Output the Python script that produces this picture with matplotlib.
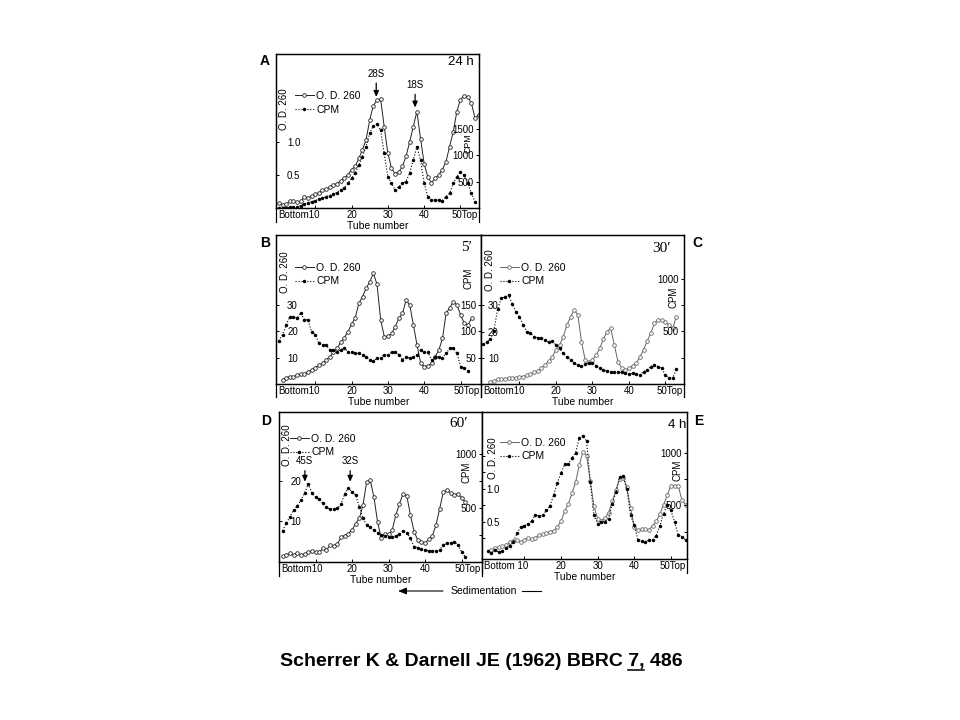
import matplotlib
matplotlib.use('Agg')
import matplotlib.pyplot as plt
from matplotlib.lines import Line2D

plt.rcParams['font.family'] = ['Liberation Sans', 'DejaVu Sans']

W, H = 960, 720

# ---------------- values ----------------
tube_ticks = [10, 20, 30, 40, 50]
# 10 and 50 are written together with the Bottom / Top words
tube_ticklabels = ['', '20', '30', '40', '']
legend_labels = ['O. D. 260', 'CPM']

# A : 24 h
a_od_tube = list(range(0, 56))
a_od = [0.07, 0.05, 0.06, 0.10, 0.11, 0.09, 0.10, 0.17, 0.15, 0.18,
        0.21, 0.23, 0.27, 0.28, 0.32, 0.35, 0.37, 0.41, 0.45, 0.50,
        0.58, 0.63, 0.75, 0.88, 1.03, 1.33, 1.55, 1.63, 1.65, 1.23,
        0.83, 0.60, 0.52, 0.54, 0.63, 0.78, 1.00, 1.23, 1.46, 1.05,
        0.67, 0.47, 0.38, 0.45, 0.50, 0.58, 0.70, 0.93, 1.15, 1.46,
        1.64, 1.70, 1.68, 1.59, 1.36, 1.41]
a_cpm_tube = list(range(0, 55))
a_cpm = [0, 0, 5, 10, 15, 25, 45, 75, 100, 120,
         140, 165, 180, 215, 235, 265, 290, 340, 385, 465,
         560, 655, 810, 970, 1160, 1410, 1550, 1585, 1470, 1030,
         590, 465, 340, 400, 465, 500, 655, 905, 1160, 905,
         465, 215, 150, 150, 150, 140, 215, 275, 465, 590,
         685, 620, 465, 275, 120]
a_od_ticks = [0.5, 1.0]
a_cpm_ticks = [500, 1000, 1500]

# B : 5 min
b_od_tube = list(range(1, 54))
b_od = [1.5, 2.4, 2.8, 2.7, 3.4, 3.7, 3.7, 4.7, 5.3, 6.2,
        7.2, 7.8, 9.1, 10.4, 12.0, 13.5, 15.8, 17.6, 19.9, 22.7,
        25.2, 30.6, 33.2, 36.3, 38.9, 42.0, 37.8, 24.3, 18.0, 18.2,
        19.2, 21.8, 24.9, 26.8, 31.9, 30.0, 22.4, 14.8, 7.8, 6.6,
        7.0, 7.8, 10.4, 12.9, 17.3, 26.8, 29.0, 31.3, 30.0, 26.2,
        23.0, 22.4, 24.9]
b_cpm_tube = list(range(0, 53))
b_cpm = [82, 94, 112, 128, 128, 125, 135, 122, 122, 99,
         94, 77, 74, 74, 65, 65, 60, 65, 69, 61,
         60, 58, 58, 55, 52, 46, 44, 49, 49, 56,
         55, 61, 61, 56, 46, 52, 49, 52, 55, 65,
         60, 60, 46, 52, 52, 50, 58, 68, 68, 58,
         33, 30, 25]
b_od_ticks = [10, 20, 30]
b_cpm_ticks = [50, 100, 150]

# C : 30 min
c_od_tube = list(range(2, 54))
c_od = [0.9, 1.3, 1.8, 1.9, 1.9, 2.2, 2.2, 2.4, 2.8, 2.8,
        3.4, 3.7, 4.5, 5.0, 6.2, 7.2, 8.8, 10.4, 13.0, 14.9,
        18.1, 22.5, 25.7, 28.3, 26.4, 16.2, 9.2, 8.5, 9.2, 11.0,
        13.6, 17.2, 20.0, 21.3, 14.9, 8.5, 6.2, 5.4, 6.0, 7.0,
        7.9, 10.4, 13.0, 16.4, 19.4, 23.2, 24.5, 24.5, 23.6, 22.5,
        21.3, 25.7]
c_cpm_tube = list(range(0, 54))
c_cpm = [377, 395, 427, 506, 712, 813, 829, 845, 759, 687,
         639, 560, 497, 481, 449, 440, 434, 418, 396, 408,
         370, 339, 291, 259, 228, 196, 180, 174, 187, 196,
         196, 174, 149, 133, 123, 117, 117, 111, 111, 101,
         92, 101, 92, 85, 117, 133, 165, 180, 165, 149,
         85, 54, 54, 142]
c_od_ticks = [10, 20, 30]
c_cpm_ticks = [250, 500, 750, 1000]
c_cpm_ticklabels = ['', '500', '', '1000']

# D : 60 min
d_od_tube = list(range(1, 52))
d_od = [1.2, 1.6, 2.0, 1.6, 2.0, 1.6, 1.8, 2.2, 2.6, 2.4,
        2.2, 3.2, 2.8, 4.0, 3.9, 4.2, 6.1, 6.4, 6.9, 7.8,
        9.4, 10.7, 14.0, 19.8, 20.2, 16.0, 9.8, 5.7, 6.9, 6.7,
        7.8, 11.5, 14.4, 16.9, 16.4, 11.5, 7.4, 5.3, 4.9, 4.5,
        5.5, 6.4, 9.0, 13.1, 17.3, 17.7, 17.1, 16.6, 16.9, 15.8,
        14.8]
d_cpm_tube = list(range(1, 52))
d_cpm = [291, 359, 421, 483, 520, 576, 638, 724, 644, 600,
         582, 545, 508, 489, 489, 498, 539, 632, 684, 653,
         622, 514, 406, 344, 322, 297, 272, 251, 241, 235,
         235, 241, 260, 291, 272, 220, 142, 133, 118, 111,
         105, 105, 105, 111, 158, 173, 180, 189, 158, 96,
         50]
d_od_ticks = [10, 20]
d_cpm_ticks = [250, 500, 750, 1000]
d_cpm_ticklabels = ['', '500', '', '1000']

# E : 4 h
e_od_tube = list(range(1, 55))
e_od = [0.07, 0.10, 0.12, 0.13, 0.15, 0.19, 0.21, 0.23, 0.20, 0.23,
        0.26, 0.24, 0.26, 0.30, 0.32, 0.33, 0.35, 0.37, 0.42, 0.51,
        0.66, 0.77, 0.93, 1.10, 1.36, 1.56, 1.50, 1.12, 0.74, 0.55,
        0.52, 0.56, 0.64, 0.81, 0.98, 1.15, 1.17, 1.02, 0.71, 0.42,
        0.38, 0.39, 0.39, 0.38, 0.44, 0.51, 0.62, 0.76, 0.90, 1.05,
        1.05, 1.05, 0.83, 0.76]
e_cpm_tube = list(range(0, 55))
e_cpm = [69, 47, 78, 56, 69, 94, 119, 156, 234, 297,
         306, 328, 350, 413, 400, 406, 453, 494, 600, 712,
         806, 891, 891, 953, 1000, 1141, 1163, 1109, 719, 406,
         328, 344, 344, 375, 516, 625, 766, 781, 656, 406,
         313, 172, 163, 150, 172, 172, 213, 306, 422, 500,
         453, 344, 219, 203, 172]
e_od_ticks = [0.25, 0.5, 0.75, 1.0, 1.25, 1.5]
e_od_ticklabels = ['', '0.5', '', '1.0', '', '']
e_cpm_ticks = [250, 500, 750, 1000]
e_cpm_ticklabels = ['', '500', '', '1000']

citation = 'Scherrer K & Darnell JE (1962) BBRC 7, 486'
citation_underlined = 'Scherrer K & Darnell JE (1962) BBRC 7,'

SANS = ['Liberation Sans', 'DejaVu Sans']
SERIF = ['Liberation Serif', 'DejaVu Serif']


def px_rect(x0, y0, x1, y1):
    return [x0 / W, 1 - y1 / H, (x1 - x0) / W, (y1 - y0) / H]


def draw_panel(fig, lay, od_tube, od, cpm_tube, cpm, od_ticks, od_ticklabels, cpm_ticks, cpm_ticklabels):
    ax = fig.add_axes(px_rect(*lay['box']))
    ax2 = ax.twinx()
    ax.set_xlim(*lay['xlim'])
    ax.set_ylim(*lay['od_lim'])
    ax2.set_ylim(*lay['cpm_lim'])

    oc = lay['od_color']
    ax.plot(od_tube, od, '-o', color=oc, lw=0.7, ms=2.6, mfc='white', mec=oc, mew=0.6)
    ax2.plot(cpm_tube, cpm, ':o', color='black', lw=0.8, ms=2.5, mew=0)

    for a in (ax, ax2):
        for s in a.spines.values():
            s.set_linewidth(0.9)

    ax.set_xticks(tube_ticks)
    ax.set_xticklabels(tube_ticklabels)
    ax.tick_params(axis='x', direction='in', length=2.5, width=0.7, pad=1.5, labelsize=7)
    ax.set_xlabel('Tube number', fontsize=7.5, labelpad=1)

    ax.set_yticks(od_ticks)
    ax.set_yticklabels(od_ticklabels)
    ax.tick_params(axis='y', direction='in', length=2.5, width=0.7, pad=-lay['od_pad'], labelsize=7)
    for lbl in ax.get_yticklabels():
        lbl.set_horizontalalignment('left')

    ax2.set_yticks(cpm_ticks)
    ax2.set_yticklabels(cpm_ticklabels)
    ax2.tick_params(axis='y', direction='in', length=2.5, width=0.7, pad=-3.5, labelsize=7)
    for lbl in ax2.get_yticklabels():
        lbl.set_horizontalalignment('right')

    # the frame sides run on below the tube axis
    ext = lay['ext'] / (lay['box'][3] - lay['box'][1])
    for side in (0, 1):
        ax.plot([side, side], [0, -ext], transform=ax.transAxes, clip_on=False, color='black', lw=0.9)

    ax.annotate(lay['bottom_text'], xy=(0, 0), xycoords='axes fraction', xytext=(1.5, -1.5),
                textcoords='offset points', ha='left', va='top', fontsize=7)
    ax.annotate('50Top', xy=(1, 0), xycoords='axes fraction', xytext=(-0.8, -1.5),
                textcoords='offset points', ha='right', va='top', fontsize=7)

    ax.text(lay['od_lab_at'][0], lay['od_lab_at'][1], 'O. D. 260', transform=ax.transAxes,
            rotation=90, ha='center', va='center', fontsize=7)
    ax2.text(lay['cpm_lab_at'][0], lay['cpm_lab_at'][1], 'CPM', transform=ax2.transAxes,
             rotation=90, ha='center', va='center', fontsize=lay.get('cpm_fs', 7))

    handles = [Line2D([], [], color=oc, lw=0.7, marker='o', ms=2.6, mfc='white', mec=oc, mew=0.6),
               Line2D([], [], color='black', lw=0.8, ls=':', marker='o', ms=2.5, mew=0)]
    ax2.legend(handles, legend_labels, loc='upper left', bbox_to_anchor=lay['legend_at'],
               frameon=False, fontsize=7.5, handlelength=1.8, handletextpad=0.25,
               labelspacing=0.35, borderpad=0, borderaxespad=0)

    txt, tx, ty, fam, fs = lay['time']
    ax2.text(tx, ty, txt, transform=ax2.transAxes, ha='right', va='top', fontsize=fs, family=fam)
    return ax, ax2


fig = plt.figure(figsize=(W / 100, H / 100), dpi=100)

lay_a = dict(box=(276, 54, 479, 208), ext=14, xlim=(-0.8, 55.1), od_lim=(0, 2.33), cpm_lim=(0, 2906),
             od_color='#222222', od_pad=8, legend_at=(0.094, 0.76), od_lab_at=(0.04, 0.64),
             cpm_lab_at=(0.946, 0.421), cpm_fs=6.3, time=('24 h', 0.975, 0.985, SANS, 9.5),
             bottom_text='Bottom10')
lay_b = dict(box=(276, 235, 481, 384), ext=13, xlim=(-0.8, 55.6), od_lim=(0, 56.6), cpm_lim=(0, 283),
             od_color='#222222', od_pad=8, legend_at=(0.093, 0.815), od_lab_at=(0.044, 0.75),
             cpm_lab_at=(0.937, 0.71), time=('5\u2032', 0.956, 0.96, SERIF, 11), bottom_text='Bottom10')
lay_c = dict(box=(481, 235, 684, 384), ext=13, xlim=(-0.55, 55.1), od_lim=(0, 56.9), cpm_lim=(0, 1415),
             od_color='#666666', od_pad=5, legend_at=(0.094, 0.815), od_lab_at=(0.044, 0.765),
             cpm_lab_at=(0.946, 0.584), time=('30\u2032', 0.936, 0.955, SERIF, 11), bottom_text='Bottom10')
lay_d = dict(box=(279, 412, 482, 562), ext=14, xlim=(0, 55.6), od_lim=(-0.2, 37.3), cpm_lim=(0, 1393),
             od_color='#222222', od_pad=8, legend_at=(0.054, 0.855), od_lab_at=(0.04, 0.78),
             cpm_lab_at=(0.926, 0.6), time=('60\u2032', 0.931, 0.965, SERIF, 11), bottom_text='Bottom10')
lay_e = dict(box=(482, 412, 687, 559), ext=14, xlim=(-1.55, 54.4), od_lim=(-0.06, 2.16), cpm_lim=(-9, 1387),
             od_color='#666666', od_pad=3, legend_at=(0.088, 0.825), od_lab_at=(0.054, 0.687),
             cpm_lab_at=(0.956, 0.6), time=('4 h', 0.995, 0.95, SANS, 9.5), bottom_text='Bottom 10')

ax_a, ax2_a = draw_panel(fig, lay_a, a_od_tube, a_od, a_cpm_tube, a_cpm,
                         a_od_ticks, [str(v) for v in a_od_ticks], a_cpm_ticks, [str(v) for v in a_cpm_ticks])
ax_b, ax2_b = draw_panel(fig, lay_b, b_od_tube, b_od, b_cpm_tube, b_cpm,
                         b_od_ticks, [str(v) for v in b_od_ticks], b_cpm_ticks, [str(v) for v in b_cpm_ticks])
ax_c, ax2_c = draw_panel(fig, lay_c, c_od_tube, c_od, c_cpm_tube, c_cpm,
                         c_od_ticks, [str(v) for v in c_od_ticks], c_cpm_ticks, c_cpm_ticklabels)
ax_d, ax2_d = draw_panel(fig, lay_d, d_od_tube, d_od, d_cpm_tube, d_cpm,
                         d_od_ticks, [str(v) for v in d_od_ticks], d_cpm_ticks, d_cpm_ticklabels)
ax_e, ax2_e = draw_panel(fig, lay_e, e_od_tube, e_od, e_cpm_tube, e_cpm,
                         e_od_ticks, e_od_ticklabels, e_cpm_ticks, e_cpm_ticklabels)

# peak markers
arrow = dict(arrowstyle='-|>,head_length=0.5,head_width=0.22', lw=0.9, color='black', shrinkA=1, shrinkB=0)
ax_a.annotate('28S', xy=(26.8, 1.68), xytext=(0, 13), textcoords='offset points',
              ha='center', va='bottom', fontsize=7, arrowprops=arrow)
ax_a.annotate('18S', xy=(37.5, 1.52), xytext=(0, 12.5), textcoords='offset points',
              ha='center', va='bottom', fontsize=7, arrowprops=arrow)
ax2_d.annotate('45S', xy=(7.1, 745), xytext=(0, 11), textcoords='offset points',
               ha='center', va='bottom', fontsize=7, arrowprops=arrow)
ax2_d.annotate('32S', xy=(19.5, 745), xytext=(0, 11), textcoords='offset points',
               ha='center', va='bottom', fontsize=7, arrowprops=arrow)

# panel letters
for letter, x, y in [('A', 265, 61), ('B', 265, 243), ('C', 697, 243), ('D', 266, 421), ('E', 699, 421)]:
    fig.text(x / W, 1 - y / H, letter, ha='center', va='center', fontsize=10, fontweight='bold')

# sedimentation direction
fig.text(484 / W, 1 - 591 / H, 'Sedimentation', ha='center', va='center', fontsize=7.5)
fig.add_artist(Line2D([522 / W, 541 / W], [1 - 591 / H, 1 - 591 / H], color='black', lw=0.8))
plt.annotate('', xy=(398 / W, 1 - 591 / H), xytext=(443 / W, 1 - 591 / H), xycoords='figure fraction',
             arrowprops=dict(arrowstyle='-|>,head_length=0.5,head_width=0.2', lw=0.8, color='black',
                             shrinkA=0, shrinkB=0))

# citation with "7," underlined
cite = fig.text(481 / W, 1 - 662 / H, citation, ha='center', va='center', fontsize=14, fontweight='bold')
fig.canvas.draw()
renderer = fig.canvas.get_renderer()
bb = cite.get_window_extent(renderer)
tmp = fig.text(0, 0, citation_underlined, fontsize=14, fontweight='bold')
w_pre = tmp.get_window_extent(renderer).width
tmp.remove()
tmp = fig.text(0, 0, '7,', fontsize=14, fontweight='bold')
w_seven = tmp.get_window_extent(renderer).width
tmp.remove()
inv = fig.transFigure.inverted()
(ux0, uy), (ux1, _) = inv.transform([(bb.x0 + w_pre - w_seven, bb.y0 + 1), (bb.x0 + w_pre, bb.y0 + 1)])
fig.add_artist(Line2D([ux0, ux1], [uy, uy], color='black', lw=1.1))

fig.savefig('out.png', dpi=100)
